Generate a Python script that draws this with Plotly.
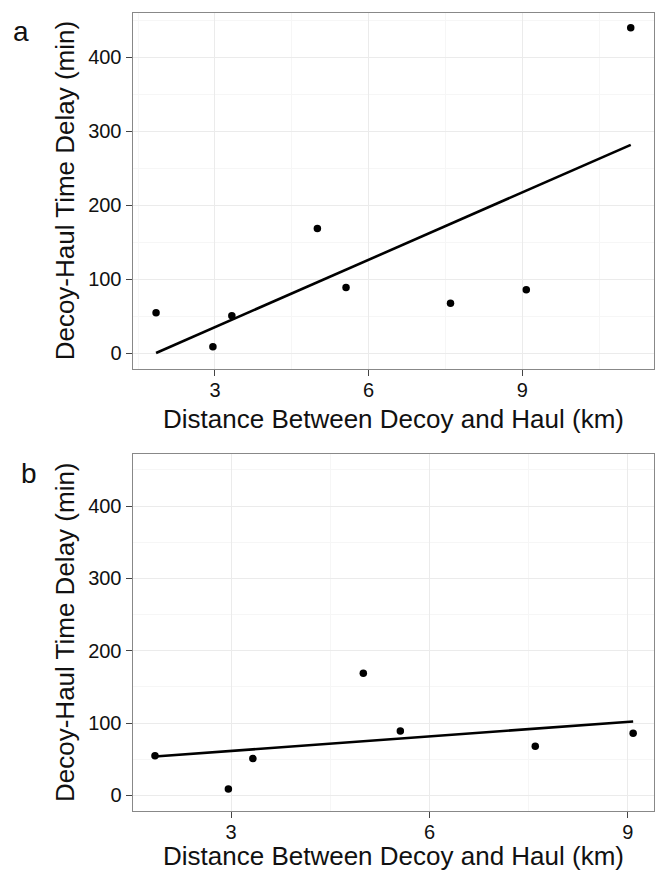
import numpy as np
import plotly.graph_objects as go

# Data
distance_km = [1.85, 2.96, 3.33, 5.00, 5.56, 7.60, 9.08, 11.12]
delay_min = [55, 9, 51, 169, 89, 68, 86, 440]

# Panel b excludes the outlier
distance_b = distance_km[:7]
delay_b = delay_min[:7]

x_ticks = [3, 6, 9]
y_ticks = [0, 100, 200, 300, 400]
x_title = "Distance Between Decoy and Haul (km)"
y_title = "Decoy-Haul Time Delay (min)"
panel_labels = ["a", "b"]

W, H = 659, 871


def fit_line(x, y):
    x = np.asarray(x, float)
    y = np.asarray(y, float)
    m, c = np.polyfit(x, y, 1)
    xs = np.array([x.min(), x.max()])
    return xs, m * xs + c


fig = go.Figure()

for i, (xd, yd) in enumerate([(distance_km, delay_min), (distance_b, delay_b)]):
    xa = "x" if i == 0 else "x2"
    ya = "y" if i == 0 else "y2"
    lx, ly = fit_line(xd, yd)
    fig.add_trace(go.Scatter(x=lx, y=ly, mode="lines", xaxis=xa, yaxis=ya,
                             line=dict(color="black", width=2.6), showlegend=False,
                             hoverinfo="skip"))
    fig.add_trace(go.Scatter(x=xd, y=yd, mode="markers", xaxis=xa, yaxis=ya,
                             marker=dict(color="black", size=7.5), showlegend=False))

font_family = "Liberation Sans, Arial, Helvetica, sans-serif"
txt = "#111111"
left, right = 132.5 / W, 654.3 / W
dom_a = [1 - 369 / H, 1 - 12.7 / H]
dom_b = [1 - 811 / H, 1 - 454 / H]

common_x = dict(showline=True, linecolor="#888888", linewidth=1, mirror=True,
                ticks="outside", ticklen=6, tickcolor="#444444", tickwidth=1,
                ticklabelstandoff=-3,
                tickvals=x_ticks, showgrid=True, gridcolor="#ebebeb", gridwidth=1,
                zeroline=False, tickfont=dict(size=20, color=txt, family=font_family),
                minor=dict(showgrid=True, gridcolor="#f6f6f6", dtick=1.5, tick0=0, ticks=""))
common_y = dict(showline=True, linecolor="#888888", linewidth=1, mirror=True,
                ticks="outside", ticklen=6, tickcolor="#444444", tickwidth=1,
                tickvals=y_ticks, showgrid=True, gridcolor="#ebebeb", gridwidth=1,
                zeroline=False, tickfont=dict(size=20, color=txt, family=font_family),
                minor=dict(showgrid=True, gridcolor="#f6f6f6", dtick=50, tick0=0, ticks=""))

fig.update_layout(
    width=W, height=H,
    margin=dict(l=0, r=0, t=0, b=0),
    paper_bgcolor="white", plot_bgcolor="white",
    font=dict(family=font_family, color=txt),
    xaxis=dict(domain=[left, right], anchor="y", range=[1.39, 11.58], **common_x),
    yaxis=dict(domain=dom_a, anchor="x", range=[-21, 460.5], **common_y),
    xaxis2=dict(domain=[left, right], anchor="y2", range=[1.51, 9.40], **common_x),
    yaxis2=dict(domain=dom_b, anchor="x2", range=[-21.5, 472], **common_y),
)

annotations = []
xc = (163 + 623) / 2 / W
# x-axis titles
for ycen in [418.5, 855.5]:
    annotations.append(dict(text=x_title, xref="paper", yref="paper",
                            x=xc, y=1 - ycen / H, xanchor="center", yanchor="middle",
                            showarrow=False, font=dict(size=26, color=txt, family=font_family)))
# y-axis titles
for (top, bot) in [(12.7, 369), (454, 811)]:
    annotations.append(dict(text=y_title, xref="paper", yref="paper", textangle=-90,
                            x=64.5 / W, y=1 - (top + bot) / 2 / H, xanchor="center", yanchor="middle",
                            showarrow=False, font=dict(size=26, color=txt, family=font_family)))
# panel labels
for lab, (px, py) in zip(panel_labels, [(21, 32), (28.5, 473.5)]):
    annotations.append(dict(text=lab, xref="paper", yref="paper",
                            x=px / W, y=1 - py / H, xanchor="center", yanchor="middle",
                            showarrow=False, font=dict(size=28, color=txt, family=font_family)))
fig.update_layout(annotations=annotations)

fig.write_html("out.html", config={"displayModeBar": False},
               post_script="document.body.style.margin='0';document.body.style.overflow='hidden';")
